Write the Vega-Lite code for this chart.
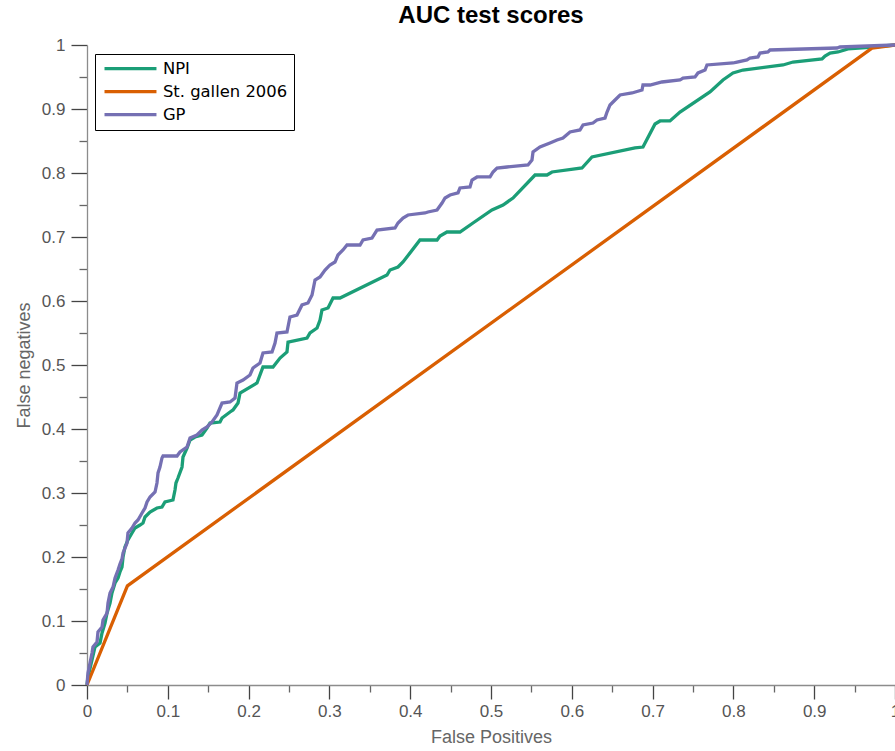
{
  "$schema": "https://vega.github.io/schema/vega-lite/v6.json",
  "width": 808,
  "height": 640,
  "autosize": {"type": "none"},
  "padding": {"left": 87, "top": 45, "right": 0, "bottom": 66},
  "background": "white",
  "title": {"text": "AUC test scores", "fontSize": 24, "fontWeight": "bold", "color": "black", "font": "Liberation Sans", "offset": 8, "anchor": "middle"},
  "data": {"values": [
    {"s":"NPI","i":0,"fp":0,"fn":0},
    {"s":"NPI","i":1,"fp":0.0012,"fn":0.0125},
    {"s":"NPI","i":2,"fp":0.0062,"fn":0.0391},
    {"s":"NPI","i":3,"fp":0.0099,"fn":0.0594},
    {"s":"NPI","i":4,"fp":0.0161,"fn":0.0656},
    {"s":"NPI","i":5,"fp":0.0186,"fn":0.0813},
    {"s":"NPI","i":6,"fp":0.0223,"fn":0.0969},
    {"s":"NPI","i":7,"fp":0.0248,"fn":0.1125},
    {"s":"NPI","i":8,"fp":0.0285,"fn":0.1281},
    {"s":"NPI","i":9,"fp":0.0309,"fn":0.1438},
    {"s":"NPI","i":10,"fp":0.0347,"fn":0.1594},
    {"s":"NPI","i":11,"fp":0.0384,"fn":0.1672},
    {"s":"NPI","i":12,"fp":0.0408,"fn":0.1766},
    {"s":"NPI","i":13,"fp":0.0433,"fn":0.1844},
    {"s":"NPI","i":14,"fp":0.0446,"fn":0.2},
    {"s":"NPI","i":15,"fp":0.047,"fn":0.2156},
    {"s":"NPI","i":16,"fp":0.0507,"fn":0.2266},
    {"s":"NPI","i":17,"fp":0.0557,"fn":0.2375},
    {"s":"NPI","i":18,"fp":0.0594,"fn":0.2453},
    {"s":"NPI","i":19,"fp":0.0656,"fn":0.25},
    {"s":"NPI","i":20,"fp":0.0693,"fn":0.2531},
    {"s":"NPI","i":21,"fp":0.0718,"fn":0.2625},
    {"s":"NPI","i":22,"fp":0.078,"fn":0.2703},
    {"s":"NPI","i":23,"fp":0.0866,"fn":0.2766},
    {"s":"NPI","i":24,"fp":0.0928,"fn":0.2781},
    {"s":"NPI","i":25,"fp":0.0965,"fn":0.2859},
    {"s":"NPI","i":26,"fp":0.1064,"fn":0.2891},
    {"s":"NPI","i":27,"fp":0.1089,"fn":0.3047},
    {"s":"NPI","i":28,"fp":0.1101,"fn":0.3156},
    {"s":"NPI","i":29,"fp":0.1126,"fn":0.3234},
    {"s":"NPI","i":30,"fp":0.1176,"fn":0.3406},
    {"s":"NPI","i":31,"fp":0.1188,"fn":0.3563},
    {"s":"NPI","i":32,"fp":0.1238,"fn":0.3703},
    {"s":"NPI","i":33,"fp":0.1275,"fn":0.3828},
    {"s":"NPI","i":34,"fp":0.1337,"fn":0.3875},
    {"s":"NPI","i":35,"fp":0.1423,"fn":0.3906},
    {"s":"NPI","i":36,"fp":0.1485,"fn":0.4016},
    {"s":"NPI","i":37,"fp":0.1522,"fn":0.4094},
    {"s":"NPI","i":38,"fp":0.1646,"fn":0.4109},
    {"s":"NPI","i":39,"fp":0.1671,"fn":0.4172},
    {"s":"NPI","i":40,"fp":0.177,"fn":0.4266},
    {"s":"NPI","i":41,"fp":0.1807,"fn":0.4297},
    {"s":"NPI","i":42,"fp":0.1869,"fn":0.4406},
    {"s":"NPI","i":43,"fp":0.1894,"fn":0.4563},
    {"s":"NPI","i":44,"fp":0.2104,"fn":0.4719},
    {"s":"NPI","i":45,"fp":0.2178,"fn":0.4969},
    {"s":"NPI","i":46,"fp":0.2302,"fn":0.4969},
    {"s":"NPI","i":47,"fp":0.2389,"fn":0.5109},
    {"s":"NPI","i":48,"fp":0.2475,"fn":0.5203},
    {"s":"NPI","i":49,"fp":0.2488,"fn":0.5359},
    {"s":"NPI","i":50,"fp":0.2723,"fn":0.5422},
    {"s":"NPI","i":51,"fp":0.276,"fn":0.55},
    {"s":"NPI","i":52,"fp":0.2847,"fn":0.5578},
    {"s":"NPI","i":53,"fp":0.2884,"fn":0.5703},
    {"s":"NPI","i":54,"fp":0.2908,"fn":0.5859},
    {"s":"NPI","i":55,"fp":0.2983,"fn":0.5891},
    {"s":"NPI","i":56,"fp":0.3045,"fn":0.6047},
    {"s":"NPI","i":57,"fp":0.3131,"fn":0.6047},
    {"s":"NPI","i":58,"fp":0.3713,"fn":0.6406},
    {"s":"NPI","i":59,"fp":0.375,"fn":0.6484},
    {"s":"NPI","i":60,"fp":0.3849,"fn":0.6531},
    {"s":"NPI","i":61,"fp":0.3911,"fn":0.6609},
    {"s":"NPI","i":62,"fp":0.4121,"fn":0.6953},
    {"s":"NPI","i":63,"fp":0.4332,"fn":0.6953},
    {"s":"NPI","i":64,"fp":0.4369,"fn":0.7016},
    {"s":"NPI","i":65,"fp":0.4455,"fn":0.7078},
    {"s":"NPI","i":66,"fp":0.4616,"fn":0.7078},
    {"s":"NPI","i":67,"fp":0.4777,"fn":0.7219},
    {"s":"NPI","i":68,"fp":0.5012,"fn":0.7422},
    {"s":"NPI","i":69,"fp":0.5149,"fn":0.75},
    {"s":"NPI","i":70,"fp":0.5272,"fn":0.7609},
    {"s":"NPI","i":71,"fp":0.5545,"fn":0.7969},
    {"s":"NPI","i":72,"fp":0.5693,"fn":0.7969},
    {"s":"NPI","i":73,"fp":0.5755,"fn":0.8016},
    {"s":"NPI","i":74,"fp":0.6126,"fn":0.8078},
    {"s":"NPI","i":75,"fp":0.625,"fn":0.825},
    {"s":"NPI","i":76,"fp":0.6782,"fn":0.8391},
    {"s":"NPI","i":77,"fp":0.6881,"fn":0.8406},
    {"s":"NPI","i":78,"fp":0.703,"fn":0.8766},
    {"s":"NPI","i":79,"fp":0.7092,"fn":0.8813},
    {"s":"NPI","i":80,"fp":0.7215,"fn":0.8813},
    {"s":"NPI","i":81,"fp":0.7339,"fn":0.8953},
    {"s":"NPI","i":82,"fp":0.771,"fn":0.9266},
    {"s":"NPI","i":83,"fp":0.7871,"fn":0.9453},
    {"s":"NPI","i":84,"fp":0.7995,"fn":0.9563},
    {"s":"NPI","i":85,"fp":0.8119,"fn":0.9609},
    {"s":"NPI","i":86,"fp":0.8614,"fn":0.9688},
    {"s":"NPI","i":87,"fp":0.8738,"fn":0.9734},
    {"s":"NPI","i":88,"fp":0.9097,"fn":0.9781},
    {"s":"NPI","i":89,"fp":0.9134,"fn":0.9828},
    {"s":"NPI","i":90,"fp":0.9196,"fn":0.9875},
    {"s":"NPI","i":91,"fp":0.9295,"fn":0.9891},
    {"s":"NPI","i":92,"fp":0.9418,"fn":0.9938},
    {"s":"NPI","i":93,"fp":0.9728,"fn":0.9969},
    {"s":"NPI","i":94,"fp":1,"fn":1},
    {"s":"St. gallen 2006","i":0,"fp":0,"fn":0},
    {"s":"St. gallen 2006","i":1,"fp":0.05,"fn":0.155},
    {"s":"St. gallen 2006","i":2,"fp":0.9715,"fn":0.995},
    {"s":"St. gallen 2006","i":3,"fp":1,"fn":1},
    {"s":"GP","i":0,"fp":0,"fn":0},
    {"s":"GP","i":1,"fp":0.0012,"fn":0.0188},
    {"s":"GP","i":2,"fp":0.0037,"fn":0.0344},
    {"s":"GP","i":3,"fp":0.0062,"fn":0.05},
    {"s":"GP","i":4,"fp":0.0074,"fn":0.0594},
    {"s":"GP","i":5,"fp":0.0124,"fn":0.0672},
    {"s":"GP","i":6,"fp":0.0136,"fn":0.0828},
    {"s":"GP","i":7,"fp":0.0186,"fn":0.0906},
    {"s":"GP","i":8,"fp":0.0198,"fn":0.1016},
    {"s":"GP","i":9,"fp":0.0248,"fn":0.1125},
    {"s":"GP","i":10,"fp":0.026,"fn":0.1281},
    {"s":"GP","i":11,"fp":0.0285,"fn":0.1438},
    {"s":"GP","i":12,"fp":0.0322,"fn":0.1531},
    {"s":"GP","i":13,"fp":0.0347,"fn":0.1672},
    {"s":"GP","i":14,"fp":0.0384,"fn":0.1797},
    {"s":"GP","i":15,"fp":0.0408,"fn":0.1891},
    {"s":"GP","i":16,"fp":0.0433,"fn":0.1969},
    {"s":"GP","i":17,"fp":0.0446,"fn":0.2063},
    {"s":"GP","i":18,"fp":0.0495,"fn":0.2219},
    {"s":"GP","i":19,"fp":0.0507,"fn":0.2375},
    {"s":"GP","i":20,"fp":0.0557,"fn":0.2453},
    {"s":"GP","i":21,"fp":0.0594,"fn":0.2531},
    {"s":"GP","i":22,"fp":0.0631,"fn":0.2578},
    {"s":"GP","i":23,"fp":0.0681,"fn":0.2688},
    {"s":"GP","i":24,"fp":0.0718,"fn":0.2766},
    {"s":"GP","i":25,"fp":0.0743,"fn":0.2859},
    {"s":"GP","i":26,"fp":0.078,"fn":0.2938},
    {"s":"GP","i":27,"fp":0.0842,"fn":0.3016},
    {"s":"GP","i":28,"fp":0.0866,"fn":0.3156},
    {"s":"GP","i":29,"fp":0.0879,"fn":0.3313},
    {"s":"GP","i":30,"fp":0.0903,"fn":0.3406},
    {"s":"GP","i":31,"fp":0.0928,"fn":0.3547},
    {"s":"GP","i":32,"fp":0.0941,"fn":0.3578},
    {"s":"GP","i":33,"fp":0.1114,"fn":0.3578},
    {"s":"GP","i":34,"fp":0.1151,"fn":0.3641},
    {"s":"GP","i":35,"fp":0.1238,"fn":0.3719},
    {"s":"GP","i":36,"fp":0.1275,"fn":0.3859},
    {"s":"GP","i":37,"fp":0.1361,"fn":0.3906},
    {"s":"GP","i":38,"fp":0.1423,"fn":0.3984},
    {"s":"GP","i":39,"fp":0.1485,"fn":0.4031},
    {"s":"GP","i":40,"fp":0.1547,"fn":0.4109},
    {"s":"GP","i":41,"fp":0.1609,"fn":0.4219},
    {"s":"GP","i":42,"fp":0.1671,"fn":0.4406},
    {"s":"GP","i":43,"fp":0.177,"fn":0.4422},
    {"s":"GP","i":44,"fp":0.1832,"fn":0.4484},
    {"s":"GP","i":45,"fp":0.1856,"fn":0.4719},
    {"s":"GP","i":46,"fp":0.1931,"fn":0.4766},
    {"s":"GP","i":47,"fp":0.2017,"fn":0.4844},
    {"s":"GP","i":48,"fp":0.2054,"fn":0.4953},
    {"s":"GP","i":49,"fp":0.2141,"fn":0.5031},
    {"s":"GP","i":50,"fp":0.2178,"fn":0.5188},
    {"s":"GP","i":51,"fp":0.229,"fn":0.5203},
    {"s":"GP","i":52,"fp":0.2327,"fn":0.5344},
    {"s":"GP","i":53,"fp":0.2351,"fn":0.55},
    {"s":"GP","i":54,"fp":0.2475,"fn":0.5516},
    {"s":"GP","i":55,"fp":0.2512,"fn":0.575},
    {"s":"GP","i":56,"fp":0.2599,"fn":0.5781},
    {"s":"GP","i":57,"fp":0.2661,"fn":0.5938},
    {"s":"GP","i":58,"fp":0.2735,"fn":0.5969},
    {"s":"GP","i":59,"fp":0.2785,"fn":0.6094},
    {"s":"GP","i":60,"fp":0.2822,"fn":0.6328},
    {"s":"GP","i":61,"fp":0.2884,"fn":0.6375},
    {"s":"GP","i":62,"fp":0.2946,"fn":0.6484},
    {"s":"GP","i":63,"fp":0.3007,"fn":0.6563},
    {"s":"GP","i":64,"fp":0.3069,"fn":0.6609},
    {"s":"GP","i":65,"fp":0.3106,"fn":0.6719},
    {"s":"GP","i":66,"fp":0.3168,"fn":0.6797},
    {"s":"GP","i":67,"fp":0.3218,"fn":0.6875},
    {"s":"GP","i":68,"fp":0.3379,"fn":0.6875},
    {"s":"GP","i":69,"fp":0.3416,"fn":0.6953},
    {"s":"GP","i":70,"fp":0.3527,"fn":0.6984},
    {"s":"GP","i":71,"fp":0.3589,"fn":0.7109},
    {"s":"GP","i":72,"fp":0.3812,"fn":0.7141},
    {"s":"GP","i":73,"fp":0.3849,"fn":0.7219},
    {"s":"GP","i":74,"fp":0.3911,"fn":0.7297},
    {"s":"GP","i":75,"fp":0.3973,"fn":0.7344},
    {"s":"GP","i":76,"fp":0.4183,"fn":0.7375},
    {"s":"GP","i":77,"fp":0.422,"fn":0.7391},
    {"s":"GP","i":78,"fp":0.4332,"fn":0.7422},
    {"s":"GP","i":79,"fp":0.4394,"fn":0.7531},
    {"s":"GP","i":80,"fp":0.4431,"fn":0.7609},
    {"s":"GP","i":81,"fp":0.4493,"fn":0.7656},
    {"s":"GP","i":82,"fp":0.4592,"fn":0.7688},
    {"s":"GP","i":83,"fp":0.4616,"fn":0.7766},
    {"s":"GP","i":84,"fp":0.474,"fn":0.7781},
    {"s":"GP","i":85,"fp":0.4765,"fn":0.7891},
    {"s":"GP","i":86,"fp":0.4827,"fn":0.7938},
    {"s":"GP","i":87,"fp":0.4988,"fn":0.7938},
    {"s":"GP","i":88,"fp":0.5025,"fn":0.8016},
    {"s":"GP","i":89,"fp":0.5074,"fn":0.8078},
    {"s":"GP","i":90,"fp":0.5198,"fn":0.8094},
    {"s":"GP","i":91,"fp":0.5458,"fn":0.8125},
    {"s":"GP","i":92,"fp":0.5507,"fn":0.8203},
    {"s":"GP","i":93,"fp":0.552,"fn":0.8328},
    {"s":"GP","i":94,"fp":0.5606,"fn":0.8406},
    {"s":"GP","i":95,"fp":0.573,"fn":0.8469},
    {"s":"GP","i":96,"fp":0.5817,"fn":0.8516},
    {"s":"GP","i":97,"fp":0.5891,"fn":0.8547},
    {"s":"GP","i":98,"fp":0.5978,"fn":0.8641},
    {"s":"GP","i":99,"fp":0.6101,"fn":0.8672},
    {"s":"GP","i":100,"fp":0.6139,"fn":0.875},
    {"s":"GP","i":101,"fp":0.6262,"fn":0.8781},
    {"s":"GP","i":102,"fp":0.6312,"fn":0.8828},
    {"s":"GP","i":103,"fp":0.6411,"fn":0.8859},
    {"s":"GP","i":104,"fp":0.6436,"fn":0.8953},
    {"s":"GP","i":105,"fp":0.6473,"fn":0.9063},
    {"s":"GP","i":106,"fp":0.651,"fn":0.9109},
    {"s":"GP","i":107,"fp":0.6597,"fn":0.9219},
    {"s":"GP","i":108,"fp":0.6745,"fn":0.925},
    {"s":"GP","i":109,"fp":0.6869,"fn":0.9297},
    {"s":"GP","i":110,"fp":0.6881,"fn":0.9375},
    {"s":"GP","i":111,"fp":0.6968,"fn":0.9375},
    {"s":"GP","i":112,"fp":0.7116,"fn":0.9422},
    {"s":"GP","i":113,"fp":0.7339,"fn":0.9453},
    {"s":"GP","i":114,"fp":0.7376,"fn":0.9484},
    {"s":"GP","i":115,"fp":0.7525,"fn":0.95},
    {"s":"GP","i":116,"fp":0.7562,"fn":0.9563},
    {"s":"GP","i":117,"fp":0.7649,"fn":0.9609},
    {"s":"GP","i":118,"fp":0.7673,"fn":0.9688},
    {"s":"GP","i":119,"fp":0.7995,"fn":0.9719},
    {"s":"GP","i":120,"fp":0.8045,"fn":0.9734},
    {"s":"GP","i":121,"fp":0.8168,"fn":0.9766},
    {"s":"GP","i":122,"fp":0.8205,"fn":0.9797},
    {"s":"GP","i":123,"fp":0.8304,"fn":0.9813},
    {"s":"GP","i":124,"fp":0.8329,"fn":0.9875},
    {"s":"GP","i":125,"fp":0.8428,"fn":0.9891},
    {"s":"GP","i":126,"fp":0.8453,"fn":0.9922},
    {"s":"GP","i":127,"fp":0.9282,"fn":0.9953},
    {"s":"GP","i":128,"fp":0.9319,"fn":0.9969},
    {"s":"GP","i":129,"fp":1,"fn":1}
  ]},
  "mark": {"type": "line", "strokeWidth": 3.3, "strokeJoin": "miter", "clip": false},
  "encoding": {
    "x": {
      "field": "fp", "type": "quantitative",
      "scale": {"domain": [0, 1], "nice": false, "zero": false},
      "axis": {
        "title": "False Positives",
        "values": [0,0.05,0.1,0.15,0.2,0.25,0.3,0.35,0.4,0.45,0.5,0.55,0.6,0.65,0.7,0.75,0.8,0.85,0.9,0.95,1],
        "labelExpr": "round(datum.value*100) % 10 == 0 ? format(datum.value, '~g') : ''",
        "tickSize": {"condition": {"test": "round(datum.value*100) % 10 != 0", "value": 7}, "value": 14},
        "tickColor": {"condition": {"test": "round(datum.value*100) % 10 != 0", "value": "#666666"}, "value": "#444444"},
        "tickWidth": 1.3,
        "grid": false,
        "domainColor": "#8c8c8c",
        "domainWidth": 1.3,
        "labelFont": "Liberation Sans", "labelFontSize": 17, "labelColor": "#555555",
        "labelOverlap": false, "labelPadding": 4, "labelFlush": false,
        "titleFont": "Liberation Sans", "titleFontSize": 18, "titleFontWeight": "normal", "titleColor": "#666666",
        "titlePadding": 9
      }
    },
    "y": {
      "field": "fn", "type": "quantitative",
      "scale": {"domain": [0, 1], "nice": false, "zero": false},
      "axis": {
        "title": "False negatives",
        "values": [0,0.05,0.1,0.15,0.2,0.25,0.3,0.35,0.4,0.45,0.5,0.55,0.6,0.65,0.7,0.75,0.8,0.85,0.9,0.95,1],
        "labelExpr": "round(datum.value*100) % 10 == 0 ? format(datum.value, '~g') : ''",
        "tickSize": {"condition": {"test": "round(datum.value*100) % 10 != 0", "value": 8}, "value": 16},
        "tickColor": {"condition": {"test": "round(datum.value*100) % 10 != 0", "value": "#666666"}, "value": "#444444"},
        "tickWidth": 1.3,
        "grid": false,
        "domainColor": "#8c8c8c",
        "domainWidth": 1.3,
        "labelFont": "Liberation Sans", "labelFontSize": 17, "labelColor": "#555555",
        "labelOverlap": false, "labelPadding": 6, "labelFlush": false,
        "titleFont": "Liberation Sans", "titleFontSize": 18, "titleFontWeight": "normal", "titleColor": "#666666",
        "titlePadding": 8
      }
    },
    "color": {
      "field": "s", "type": "nominal",
      "scale": {"domain": ["NPI", "St. gallen 2006", "GP"], "range": ["#1b9e77", "#d95f02", "#7570b3"]},
      "legend": {
        "title": null, "orient": "none", "legendX": 8, "legendY": 9,
        "symbolType": "M-1,0H9", "symbolSize": 108, "symbolStrokeWidth": 3.3,
        "labelFont": "DejaVu Sans", "labelFontSize": 16.4, "labelColor": "black", "labelOffset": 45,
        "strokeColor": "black", "fillColor": "white", "padding": 6.5, "rowPadding": 6, "cornerRadius": 0
      }
    },
    "order": {"field": "i", "type": "quantitative"}
  },
  "config": {"view": {"stroke": null}}
}
